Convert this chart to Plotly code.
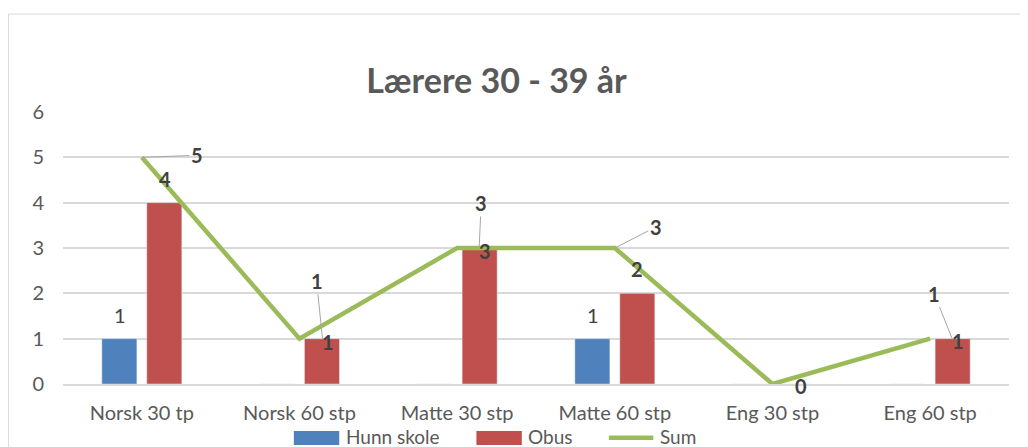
import plotly.graph_objects as go

categories = ["Norsk 30 tp", "Norsk 60 stp", "Matte 30 stp", "Matte 60 stp", "Eng 30 stp", "Eng 60 stp"]
hunn_skole = [1, 0, 0, 1, 0, 0]
obus = [4, 1, 3, 2, 0, 1]
sum_vals = [5, 1, 3, 3, 0, 1]
series_names = ["Hunn skole", "Obus", "Sum"]

BLUE = "#4F81BD"
RED = "#C0504D"
GREEN = "#9BBB59"
TXT = "#595959"
LBL = "#404040"
FONT = "Lato"

fig = go.Figure()
fig.add_bar(x=categories, y=hunn_skole, name=series_names[0], marker_color=BLUE)
fig.add_bar(x=categories, y=obus, name=series_names[1], marker_color=RED)
fig.add_scatter(x=categories, y=sum_vals, name=series_names[2], mode="lines",
                line=dict(color=GREEN, width=4.5))

annotations = []

# Hunn skole labels (only non-zero), placed above the blue bars
for c, v in zip(categories, hunn_skole):
    if v:
        annotations.append(dict(x=c, y=v, text=str(v), showarrow=False,
                                xshift=-22, yshift=24,
                                font=dict(size=20, color=LBL, family=FONT)))

# Obus labels: (xshift, yshift) per point, None = hidden
obus_off = [(23, 24), (28, -3), (28, -3), (22, 24), None, (28, -2)]
for c, v, off in zip(categories, obus, obus_off):
    if off is None:
        continue
    annotations.append(dict(x=c, y=v, text="<b>%d</b>" % v, showarrow=False,
                            xshift=off[0], yshift=off[1],
                            font=dict(size=20, color=LBL, family=FONT)))

# Sum labels with leader lines: (xshift, ax, ay) or None for plain label
sum_off = [(0, 55, -2), (23, -6, -58), (22, 2, -45), (0, 41, -21), None, (22, -18, -45)]
for c, v, off in zip(categories, sum_vals, sum_off):
    if off is None:
        annotations.append(dict(x=c, y=v, text="<b>%d</b>" % v, showarrow=False,
                                xshift=28, yshift=-2,
                                font=dict(size=20, color=LBL, family=FONT)))
        continue
    annotations.append(dict(x=c, y=v, text="<b>%d</b>" % v, showarrow=True,
                            xshift=off[0], ax=off[1], ay=off[2],
                            arrowhead=0, arrowwidth=1, arrowcolor="#A6A6A6",
                            standoff=0, startstandoff=0,
                            font=dict(size=20, color=LBL, family=FONT)))

# hand-drawn legend below the axis (wide Excel-style swatches)
shapes = [
    dict(type="rect", xref="paper", yref="paper", x0=-0.0577, x1=1.3, y0=-0.5, y1=1.36,
         line=dict(color="#D9D9D9", width=1), layer="below"),
    dict(type="rect", xref="paper", yref="paper", x0=0.244, x1=0.292, y0=-0.224, y1=-0.173,
         fillcolor=BLUE, line_width=0),
    dict(type="rect", xref="paper", yref="paper", x0=0.437, x1=0.485, y0=-0.224, y1=-0.173,
         fillcolor=RED, line_width=0),
    dict(type="line", xref="paper", yref="paper", x0=0.577, x1=0.624, y0=-0.198, y1=-0.198,
         line=dict(color=GREEN, width=4.5)),
]
for name, xpos in zip(series_names, [0.297, 0.489, 0.629]):
    annotations.append(dict(x=xpos, y=-0.193, xref="paper", yref="paper", text=name,
                            xanchor="left", yanchor="middle", showarrow=False,
                            font=dict(size=19, color=TXT, family=FONT)))

fig.update_layout(
    width=1020,
    height=439,
    margin=dict(l=55, r=19, t=104, b=63),
    paper_bgcolor="white",
    plot_bgcolor="white",
    font=dict(family=FONT, color=TXT, size=20),
    title=dict(text="<b>Lærere 30 - 39 år</b>", x=0.479, xanchor="center",
               y=0.834, yanchor="middle",
               font=dict(size=34, color=TXT, family=FONT)),
    barmode="group",
    bargap=0.43,
    bargroupgap=0.22,
    showlegend=False,
    annotations=annotations,
    shapes=shapes,
)
fig.update_xaxes(showgrid=False, showline=True, linecolor="#D9D9D9", linewidth=1.5,
                 ticks="outside", ticklen=10, tickcolor="rgba(0,0,0,0)",
                 tickfont=dict(size=20, color=TXT, family=FONT))
fig.update_yaxes(range=[0, 6], dtick=1, showgrid=True, gridcolor="#D9D9D9", gridwidth=1.5,
                 zeroline=False, showline=False,
                 ticks="outside", ticklen=14, tickcolor="rgba(0,0,0,0)",
                 tickfont=dict(size=20, color=TXT, family=FONT))

fig.write_html("out.html")
